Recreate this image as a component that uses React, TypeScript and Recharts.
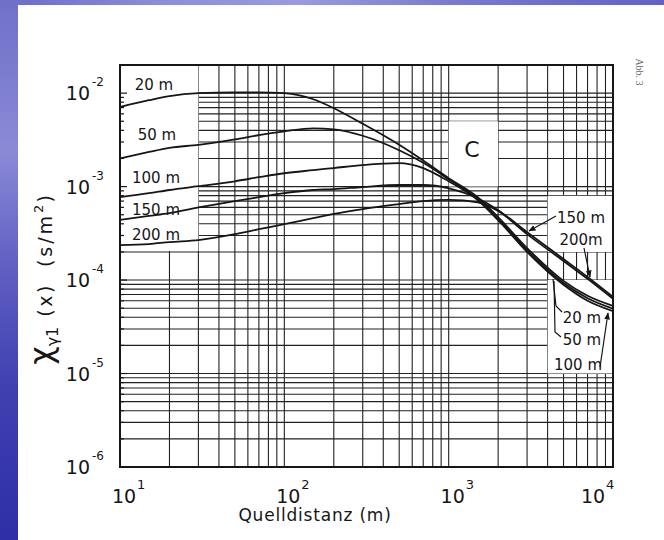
import React from "react";
import { LineChart, Line, XAxis, YAxis, CartesianGrid, ReferenceArea } from "recharts";

// Quelldistanz (m) and the five curves, one per release height
const DIST = [10, 15, 20, 30, 50, 70, 100, 150, 200, 300, 500, 700, 1000, 1500, 2000, 3000, 5000, 7000, 10000];
const H20 = [7.1e-3, 8.4e-3, 9.3e-3, 1.0e-2, 1.02e-2, 1.02e-2, 1.0e-2, 8.6e-3, 6.9e-3, 4.7e-3, 2.8e-3, 1.9e-3, 1.23e-3, 7.7e-4, 4.72e-4, 2.2e-4, 9.8e-5, 6.8e-5, 5.3e-5];
const H50 = [2.0e-3, 2.35e-3, 2.6e-3, 2.8e-3, 3.2e-3, 3.55e-3, 3.9e-3, 4.2e-3, 4.1e-3, 3.5e-3, 2.45e-3, 1.8e-3, 1.2e-3, 7.35e-4, 4.49e-4, 2.09e-4, 9.3e-5, 6.4e-5, 4.95e-5];
const H100 = [7.7e-4, 8.5e-4, 9.2e-4, 1.01e-3, 1.14e-3, 1.26e-3, 1.39e-3, 1.5e-3, 1.58e-3, 1.7e-3, 1.78e-3, 1.58e-3, 1.14e-3, 7.2e-4, 4.38e-4, 2.0e-4, 8.9e-5, 6.0e-5, 4.65e-5];
const H150 = [4.4e-4, 4.85e-4, 5.2e-4, 6.0e-4, 7.0e-4, 7.7e-4, 8.5e-4, 9.2e-4, 9.4e-4, 9.9e-4, 1.04e-3, 1.04e-3, 9.6e-4, 7.5e-4, 5.6e-4, 3.26e-4, 1.68e-4, 1.08e-4, 6.6e-5];
const H200 = [2.37e-4, 2.43e-4, 2.55e-4, 2.68e-4, 3.1e-4, 3.5e-4, 3.97e-4, 4.6e-4, 5.1e-4, 5.75e-4, 6.5e-4, 7.0e-4, 7.2e-4, 6.8e-4, 5.5e-4, 3.1e-4, 1.6e-4, 1.03e-4, 6.3e-5];

const SERIES = [
  { key: "h20", values: H20 },
  { key: "h50", values: H50 },
  { key: "h100", values: H100 },
  { key: "h150", values: H150 },
  { key: "h200", values: H200 },
];

// log paper: 1..9 in every decade
const MANTISSA = [1, 2, 3, 4, 5, 6, 7, 8, 9];
const X_DECADES = [10, 100, 1000];
const Y_DECADES = [1e-6, 1e-5, 1e-4, 1e-3];
const X_GRID = [...X_DECADES.flatMap((d) => MANTISSA.map((m) => m * d)), 10000];
const Y_GRID = [...Y_DECADES.flatMap((d) => MANTISSA.map((m) => m * d)), 1e-2, 2e-2];

const data = DIST.map((x, i) => {
  const row: Record<string, number> = { x };
  SERIES.forEach((s) => (row[s.key] = s.values[i]));
  return row;
});

const INK = "#161616";
const FONT = "'DejaVu Sans', sans-serif";

const decade = (v: number) => {
  const e = Math.log10(v);
  return Math.abs(e - Math.round(e)) < 1e-6 ? Math.round(e) : null;
};

function XTick(props: any) {
  const { x, y, payload } = props;
  const exp = decade(payload.value);
  if (exp === null) return <g />;
  const cx = exp === 4 ? x - 20 : x + 4;
  return (
    <g fill={INK} fontFamily={FONT}>
      <text x={cx} y={y + 36} textAnchor="middle" fontSize={19}>10</text>
      <text x={cx + 13} y={y + 22} fontSize={13}>{exp}</text>
    </g>
  );
}

function YTick(props: any) {
  const { x, y, payload } = props;
  const v = payload.value;
  const exp = decade(v);
  return (
    <g fill={INK} fontFamily={FONT}>
      {v < 0.015 && (
        <line x1={x} x2={x + (exp === null ? 4 : 7)} y1={y} y2={y} stroke={INK} strokeWidth={1.2} />
      )}
      {exp !== null && (
        <>
          <text x={x - 30} y={y + 7} textAnchor="end" fontSize={19}>10</text>
          <text x={x - 28} y={y - 7} fontSize={12}>{`-${Math.abs(exp)}`}</text>
        </>
      )}
    </g>
  );
}

function Notes() {
  const t = { fill: INK, fontFamily: FONT, fontSize: 15 } as const;
  return (
    <svg width={664} height={540} style={{ position: "absolute", left: 0, top: 0, pointerEvents: "none" }}>
      <defs>
        <marker id="tip" viewBox="0 0 10 10" refX="9" refY="5" markerWidth="6" markerHeight="6" orient="auto">
          <path d="M0,1 L10,5 L0,9 z" fill={INK} />
        </marker>
      </defs>
      <rect x={120} y={65} width={493} height={402} fill="none" stroke={INK} strokeWidth={2} />

      <text {...t} x={154} y={90} textAnchor="middle">20 m</text>
      <text {...t} x={157} y={140} textAnchor="middle">50 m</text>
      <text {...t} x={156} y={183} textAnchor="middle">100 m</text>
      <text {...t} x={156} y={215} textAnchor="middle">150 m</text>
      <text {...t} x={156} y={240} textAnchor="middle">200 m</text>

      <text {...t} x={472} y={157} textAnchor="middle" fontSize={22}>C</text>

      <text {...t} x={581} y={223} textAnchor="middle">150 m</text>
      <text {...t} x={581} y={245} textAnchor="middle">200m</text>
      <path d="M556,216 L529,231" stroke={INK} strokeWidth={1.2} fill="none" markerEnd="url(#tip)" />
      <path d="M584,248 L590,277" stroke={INK} strokeWidth={1.2} fill="none" markerEnd="url(#tip)" />

      <text {...t} x={582} y={323} textAnchor="middle">20 m</text>
      <text {...t} x={582} y={345} textAnchor="middle">50 m</text>
      <text {...t} x={578} y={370} textAnchor="middle">100 m</text>
      <path d="M553,279 L556,306 L562,312" stroke={INK} strokeWidth={1.2} fill="none" />
      <path d="M554,281 L555,332 L561,337" stroke={INK} strokeWidth={1.2} fill="none" />
      <path d="M600,367 L608,313" stroke={INK} strokeWidth={1.2} fill="none" markerEnd="url(#tip)" />

      <text x={636} y={72} transform="rotate(90 636 72)" textAnchor="middle" fontSize={10}
        fontFamily="'Liberation Serif', serif" fill="#666">Abb. 3</text>

      <text x={315} y={521} textAnchor="middle" fontSize={17} fontFamily={FONT} fill={INK} letterSpacing={0.8}>
        Quelldistanz (m)
      </text>

      <text transform="translate(52,280) rotate(-90)" textAnchor="middle" fontFamily={FONT} fill={INK} fontSize={19}>
        <tspan fontSize={32}>χ</tspan>
        <tspan fontSize={16} dy={6}>γ1</tspan>
        <tspan dy={-6} letterSpacing={2.5} dx={10}>(x)</tspan>
        <tspan letterSpacing={3} dx={16}>(s/m</tspan>
        <tspan fontSize={13} dy={-9}>2</tspan>
        <tspan dy={9} dx={2}>)</tspan>
      </text>
    </svg>
  );
}

export default function App() {
  return (
    <div style={{ position: "fixed", left: 0, top: 0, width: 664, height: 540, background: "#fff", overflow: "hidden" }}>
      <div style={{ position: "absolute", left: 0, top: 0, width: 664, height: 5,
        background: "linear-gradient(90deg, #6a6ac8, #8e8ed8 25%, #9a9adc 45%, #7878cc 70%, #6262c4)" }} />
      <div style={{ position: "absolute", left: 0, top: 0, width: 18, height: 540,
        background: "linear-gradient(180deg, #7070c8 0%, #8a8ad6 28%, #6262c4 48%, #4242b2 70%, #2e2ea6 100%)" }} />
      <div style={{ position: "absolute", left: 0, top: 0 }}>
        <LineChart width={664} height={540} data={data} margin={{ top: 65, right: 51, bottom: 0, left: 0 }}>
          <CartesianGrid stroke="#222" strokeWidth={1.1} />
          <XAxis dataKey="x" type="number" scale="log" domain={[10, 10000]} allowDataOverflow
            ticks={X_GRID} interval={0} height={73} tickSize={0} tickMargin={0}
            axisLine={false} tickLine={false} tick={<XTick />} />
          <YAxis type="number" scale="log" domain={[1e-6, 2e-2]} allowDataOverflow
            ticks={Y_GRID} interval={0} width={120} tickSize={0} tickMargin={0}
            axisLine={false} tickLine={false} tick={<YTick />} />
          {/* blank panels behind the curve labels */}
          <ReferenceArea x1={10} x2={30} y1={2.05e-4} y2={2e-2} fill="#fff" fillOpacity={1} stroke="none" />
          <ReferenceArea x1={1000} x2={2000} y1={1e-3} y2={5e-3} fill="#fff" fillOpacity={1} stroke="none" />
          <ReferenceArea x1={4000} x2={10000} y1={2e-4} y2={8e-4} fill="#fff" fillOpacity={1} stroke="none" />
          <ReferenceArea x1={4000} x2={10000} y1={1e-5} y2={1e-4} fill="#fff" fillOpacity={1} stroke="none" />
          {SERIES.map((s) => (
            <Line key={s.key} dataKey={s.key} type="monotone" stroke={INK} strokeWidth={1.8}
              dot={false} isAnimationActive={false} />
          ))}
        </LineChart>
      </div>
      <Notes />
    </div>
  );
}
